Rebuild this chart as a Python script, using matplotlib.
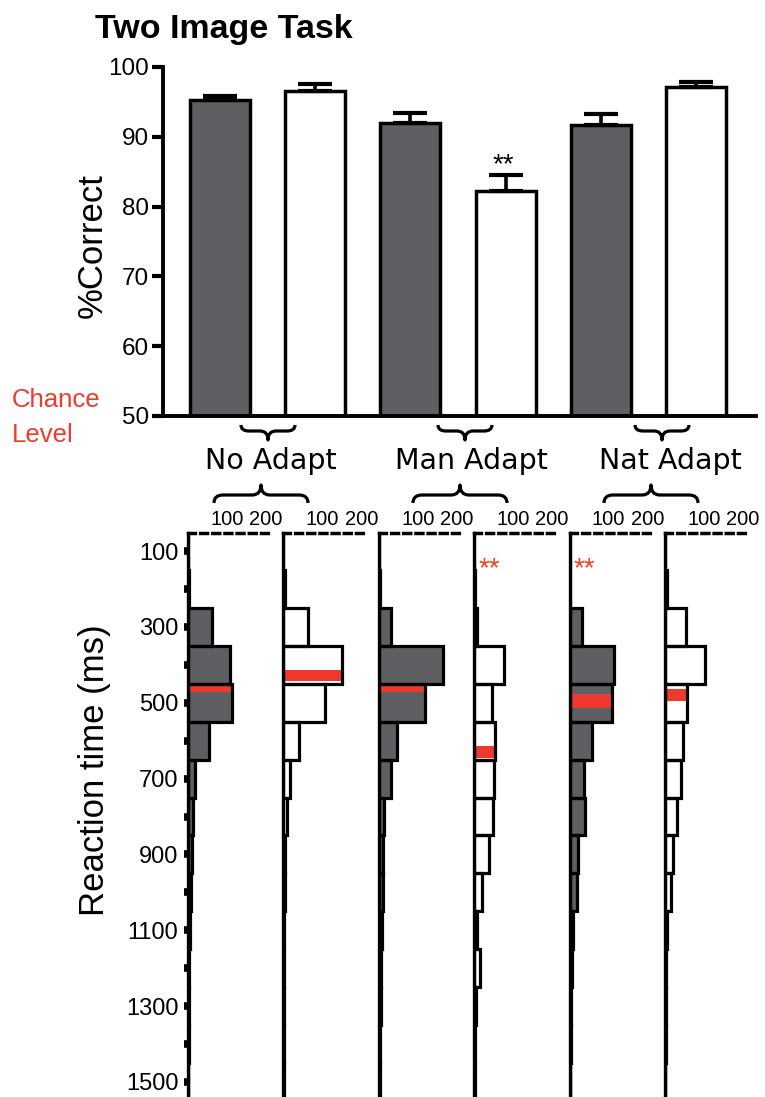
import matplotlib
matplotlib.use('Agg')
import matplotlib.pyplot as plt
import numpy as np
from matplotlib.path import Path
from matplotlib.patches import PathPatch
from matplotlib.ticker import FixedLocator

plt.rcParams['font.family'] = ['Liberation Sans', 'DejaVu Sans']

# ---------------- data ----------------
conditions = ['No Adapt', 'Man Adapt', 'Nat Adapt']
pct_correct = [95.3, 96.6, 92.0, 82.2, 91.7, 97.1]
pct_sem = [0.6, 0.95, 1.45, 2.3, 1.5, 0.7]
bar_kind = ['dark', 'white', 'dark', 'white', 'dark', 'white']
pct_sig = ['', '', '', '**', '', '']
pct_ticks = [50, 60, 70, 80, 90, 100]

rt_bins = [100, 200, 300, 400, 500, 600, 700, 800, 900, 1000, 1100, 1200, 1300, 1400, 1500]
rt_no_adapt_a = [0, 3, 62, 109, 114, 54, 18, 14, 9, 7, 5, 3, 2, 2, 1]
rt_no_adapt_b = [0, 3, 64, 150, 108, 39, 18, 10, 5, 3, 2, 2, 1, 1, 1]
rt_man_adapt_a = [0, 2, 31, 166, 118, 47, 31, 14, 12, 10, 8, 6, 5, 3, 2]
rt_man_adapt_b = [0, 2, 8, 77, 46, 54, 51, 49, 38, 21, 8, 15, 5, 3, 2]
rt_nat_adapt_a = [0, 2, 31, 113, 110, 58, 36, 40, 22, 19, 9, 6, 4, 3, 2]
rt_nat_adapt_b = [0, 5, 53, 102, 56, 46, 42, 32, 21, 15, 6, 3, 3, 2, 1]
rt_median = [460, 428, 461, 630, 495, 479]
rt_median_band = [22, 31, 21, 31, 35, 32]
rt_sig = ['', '', '', '**', '**', '']
rt_ticks = [100, 300, 500, 700, 900, 1100, 1300, 1500]
rt_minor_ticks = [200, 400, 600, 800, 1000, 1200, 1400]
count_ticks = [100, 200]

rt_counts = [rt_no_adapt_a, rt_no_adapt_b, rt_man_adapt_a,
             rt_man_adapt_b, rt_nat_adapt_a, rt_nat_adapt_b]

DARK = '#5e5f63'
RED = '#ee3a2e'
RED_TXT = '#f03b2c'

W, H = 765, 1097
fig = plt.figure(figsize=(W / 100, H / 100), dpi=100)


def fx(px):
    return px / W


def fy(py):
    return 1 - py / H


# ---------------- top bar chart ----------------
ax = fig.add_axes([fx(163), fy(416), (756 - 163) / W, (416 - 67) / H])
xpos = np.arange(len(pct_correct))
faces = [DARK if k == 'dark' else 'white' for k in bar_kind]
ax.bar(xpos, np.array(pct_correct) - 50, bottom=50, width=0.63, color=faces,
       edgecolor='black', linewidth=2.5, zorder=2)
ax.errorbar(xpos, pct_correct, yerr=[np.zeros(len(pct_sem)), pct_sem], fmt='none',
            ecolor='black', elinewidth=2.6, capsize=12, capthick=3, zorder=3)
for xi, v, e, s in zip(xpos, pct_correct, pct_sem, pct_sig):
    if s:
        ax.annotate(s, xy=(xi, v + e), xytext=(-2, 2), textcoords='offset points',
                    ha='center', va='baseline', fontsize=20)
ax.set_xlim(-0.6, 5.63)
ax.set_ylim(50, 100)
ax.set_yticks(pct_ticks)
ax.set_xticks([])
for sp in ['top', 'right']:
    ax.spines[sp].set_visible(False)
for sp in ['left', 'bottom']:
    ax.spines[sp].set_linewidth(2.8)
ax.tick_params(axis='y', length=8, width=3, labelsize=17.5, pad=2)

fig.text(fx(95), fy(38), 'Two Image Task', fontsize=24.5, fontweight='bold',
         ha='left', va='baseline')
fig.text(fx(92), fy(246), '%Correct', fontsize=25, rotation=90,
         ha='center', va='center')
fig.text(fx(12), fy(407), 'Chance', color=RED_TXT, fontsize=18.5,
         ha='left', va='baseline')
fig.text(fx(12), fy(442), 'Level', color=RED_TXT, fontsize=18.5,
         ha='left', va='baseline')

group_label_x = [271, 471, 670]
for cx, lab in zip(group_label_x, conditions):
    fig.text(fx(cx), fy(469), lab, fontsize=20.5, family='DejaVu Sans',
             ha='center', va='baseline')


def brace(cx, half, y_end, y_line, y_tip, r=9, lw=2.3):
    pts = [(cx - half, y_end), (cx - half, y_line), (cx - half + r, y_line),
           (cx - r, y_line), (cx, y_line), (cx, y_tip),
           (cx, y_line), (cx + r, y_line),
           (cx + half - r, y_line), (cx + half, y_line), (cx + half, y_end)]
    codes = [Path.MOVETO, Path.CURVE3, Path.CURVE3,
             Path.LINETO, Path.CURVE3, Path.CURVE3,
             Path.CURVE3, Path.CURVE3,
             Path.LINETO, Path.CURVE3, Path.CURVE3]
    verts = [(fx(px), fy(py)) for px, py in pts]
    fig.patches.append(PathPatch(Path(verts, codes), transform=fig.transFigure,
                                 fill=False, edgecolor='black', linewidth=lw,
                                 capstyle='butt', joinstyle='round'))


for cx in [268, 465, 662]:
    brace(cx, 27, 425, 431, 440, r=8)
for cx in [261, 460, 651]:
    brace(cx, 47, 503, 495, 485, r=9)

# ---------------- reaction time histograms ----------------
for i, counts in enumerate(rt_counts):
    axp = fig.add_axes([fx(188 + 95.4 * i), 0, 83 / W, (H - 533) / H])
    face = DARK if bar_kind[i] == 'dark' else 'white'
    axp.barh(rt_bins, counts, height=100, color=face, linewidth=0, zorder=1)
    j = int(np.argmin([abs(b - rt_median[i]) for b in rt_bins]))
    axp.barh(rt_median[i], counts[j], height=rt_median_band[i], color=RED,
             linewidth=0, zorder=2)
    axp.barh(rt_bins, counts, height=100, fill=False, edgecolor='black',
             linewidth=2.3, zorder=3)
    if rt_sig[i]:
        axp.text(10, 166, rt_sig[i], color='#f5401f', fontsize=20,
                 ha='left', va='baseline')
    axp.set_xlim(0, 213)
    axp.set_ylim(1540, 52)
    for sp in ['right', 'bottom']:
        axp.spines[sp].set_visible(False)
    axp.spines['left'].set_linewidth(2.4)
    axp.spines['top'].set_linewidth(2.5)
    axp.spines['top'].set_linestyle((0, (2, 1.5)))
    axp.xaxis.set_ticks_position('top')
    axp.set_xticks(count_ticks)
    axp.tick_params(axis='x', length=0, pad=3, labelsize=14.5)
    if i == 0:
        axp.set_yticks(rt_ticks)
        axp.yaxis.set_minor_locator(FixedLocator(rt_minor_ticks))
        axp.tick_params(axis='y', which='both', length=3, width=5.5,
                        labelsize=17, pad=4)
    else:
        axp.set_yticks([])

fig.text(fx(95), fy(770), 'Reaction time (ms)', fontsize=25, rotation=90,
         ha='center', va='center')

fig.savefig('out.png', dpi=100)
